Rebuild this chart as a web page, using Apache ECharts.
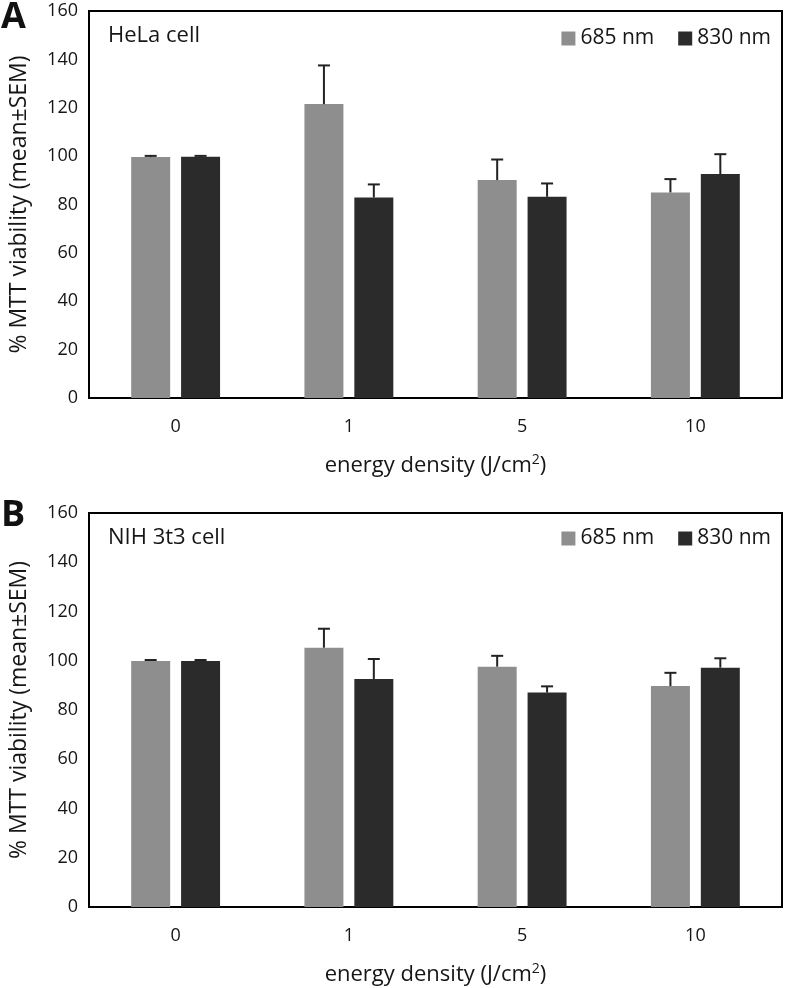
<!DOCTYPE html>
<html>
<head>
  <meta charset="utf-8">
  <script src="https://cdn.jsdelivr.net/npm/echarts@6/dist/echarts.min.js"></script>
</head>
<body style="margin:0; background:#fff">
  <div id="container" style="width:792px; height:988px"></div>
  <script type="text/javascript">
    // energy density categories
    const categories = ['0', '1', '5', '10'];
    const seriesNames = ['685 nm', '830 nm'];

    // panel A: HeLa cell
    const helaMean685 = [99.6, 121.5, 90.1, 85.0];
    const helaSem685 = [0.5, 16.0, 8.5, 5.5];
    const helaMean830 = [99.7, 82.9, 83.2, 92.6];
    const helaSem830 = [0.4, 5.4, 5.5, 8.2];

    // panel B: NIH 3t3 cell
    const nihMean685 = [99.9, 105.3, 97.6, 89.7];
    const nihSem685 = [0.4, 7.7, 4.4, 5.4];
    const nihMean830 = [99.9, 92.6, 87.1, 97.2];
    const nihSem830 = [0.4, 8.1, 2.5, 3.8];

    const yTicks = { min: 0, max: 160, interval: 20 };

    const gray = '#8e8e8e';
    const dark = '#2b2b2b';
    const ink = '#161616';
    const font = '"Open Sans", sans-serif';

    var dom = document.getElementById('container');
    var myChart = echarts.init(dom, null, { renderer: 'canvas' });

    // error bar drawn with the axis scale
    function errorBar(mean, sem, side, gridIdx) {
      return {
        type: 'custom',
        xAxisIndex: gridIdx,
        yAxisIndex: gridIdx,
        z: 5,
        silent: true,
        data: mean.map((m, i) => [i, m, m + sem[i]]),
        renderItem: function (params, api) {
          var band = api.size([1, 0])[0];
          var off = side * 0.144 * band;
          var p0 = api.coord([api.value(0), api.value(1)]);
          var p1 = api.coord([api.value(0), api.value(2)]);
          var x = p0[0] + off;
          var cap = 6;
          var st = { stroke: '#222', lineWidth: 2 };
          return {
            type: 'group',
            children: [
              { type: 'line', shape: { x1: x, y1: p0[1], x2: x, y2: p1[1] }, style: st },
              { type: 'line', shape: { x1: x - cap, y1: p1[1], x2: x + cap, y2: p1[1] }, style: st }
            ]
          };
        }
      };
    }

    function barSeries(name, mean, color, gridIdx) {
      return {
        name: name,
        type: 'bar',
        xAxisIndex: gridIdx,
        yAxisIndex: gridIdx,
        barWidth: '22.5%',
        barGap: '28%',
        itemStyle: { color: color },
        data: mean
      };
    }

    function xAxisFor(gridIdx) {
      return {
        type: 'category',
        gridIndex: gridIdx,
        data: categories,
        axisTick: { show: false },
        axisLine: { lineStyle: { color: '#000', width: 2 } },
        axisLabel: { color: ink, fontSize: 18, fontFamily: font, fontWeight: 500, margin: 20 },
        name: 'energy density (J/cm{sup|2})',
        nameLocation: 'middle',
        nameGap: 55,
        nameTextStyle: {
          color: ink, fontSize: 22, fontFamily: font, fontWeight: 500,
          rich: { sup: { fontSize: 14, fontFamily: font, fontWeight: 500, color: ink, padding: [0, 0, 11, 0] } }
        }
      };
    }

    function yAxisFor(gridIdx) {
      return {
        type: 'value',
        gridIndex: gridIdx,
        min: yTicks.min,
        max: yTicks.max,
        interval: yTicks.interval,
        splitLine: { show: false },
        axisTick: { show: false },
        axisLine: { show: true, lineStyle: { color: '#000', width: 2 } },
        axisLabel: { color: ink, fontSize: 18, fontFamily: font, fontWeight: 500, margin: 11 },
        name: '% MTT viability (mean±SEM)',
        nameLocation: 'middle',
        nameGap: 58,
        nameTextStyle: { color: ink, fontSize: 23, fontFamily: font, fontWeight: 500 }
      };
    }

    function legendFor(gridIdx, top) {
      return {
        data: seriesNames,
        top: top,
        right: 16,
        itemWidth: 14,
        itemHeight: 14,
        itemGap: 24,
        icon: 'rect',
        selectedMode: false,
        textStyle: { color: ink, fontSize: 21, fontFamily: font, fontWeight: 500 }
      };
    }

    var option = {
      animation: false,
      grid: [
        { left: 89, right: 10, top: 11, height: 387, show: true, borderColor: '#000', borderWidth: 2 },
        { left: 89, right: 10, top: 513, height: 394, show: true, borderColor: '#000', borderWidth: 2 }
      ],
      xAxis: [xAxisFor(0), xAxisFor(1)],
      yAxis: [yAxisFor(0), yAxisFor(1)],
      legend: [legendFor(0, 23), legendFor(1, 523)],
      graphic: [
        { type: 'text', left: 1, top: 0, style: { text: 'A', fontSize: 36, fontWeight: 'bold', fontFamily: font, fill: '#111' } },
        { type: 'text', left: 1, top: 498, style: { text: 'B', fontSize: 36, fontWeight: 'bold', fontFamily: font, fill: '#111' } },
        { type: 'text', left: 108, top: 25, style: { text: 'HeLa cell', fontSize: 22, fontFamily: font, fontWeight: 500, fill: ink } },
        { type: 'text', left: 108, top: 527, style: { text: 'NIH 3t3 cell', fontSize: 22, fontFamily: font, fontWeight: 500, fill: ink } }
      ],
      series: [
        barSeries('685 nm', helaMean685, gray, 0),
        barSeries('830 nm', helaMean830, dark, 0),
        errorBar(helaMean685, helaSem685, -1, 0),
        errorBar(helaMean830, helaSem830, 1, 0),
        barSeries('685 nm', nihMean685, gray, 1),
        barSeries('830 nm', nihMean830, dark, 1),
        errorBar(nihMean685, nihSem685, -1, 1),
        errorBar(nihMean830, nihSem830, 1, 1)
      ]
    };

    myChart.setOption(option);
    window.addEventListener('resize', myChart.resize);
  </script>
</body>
</html>
